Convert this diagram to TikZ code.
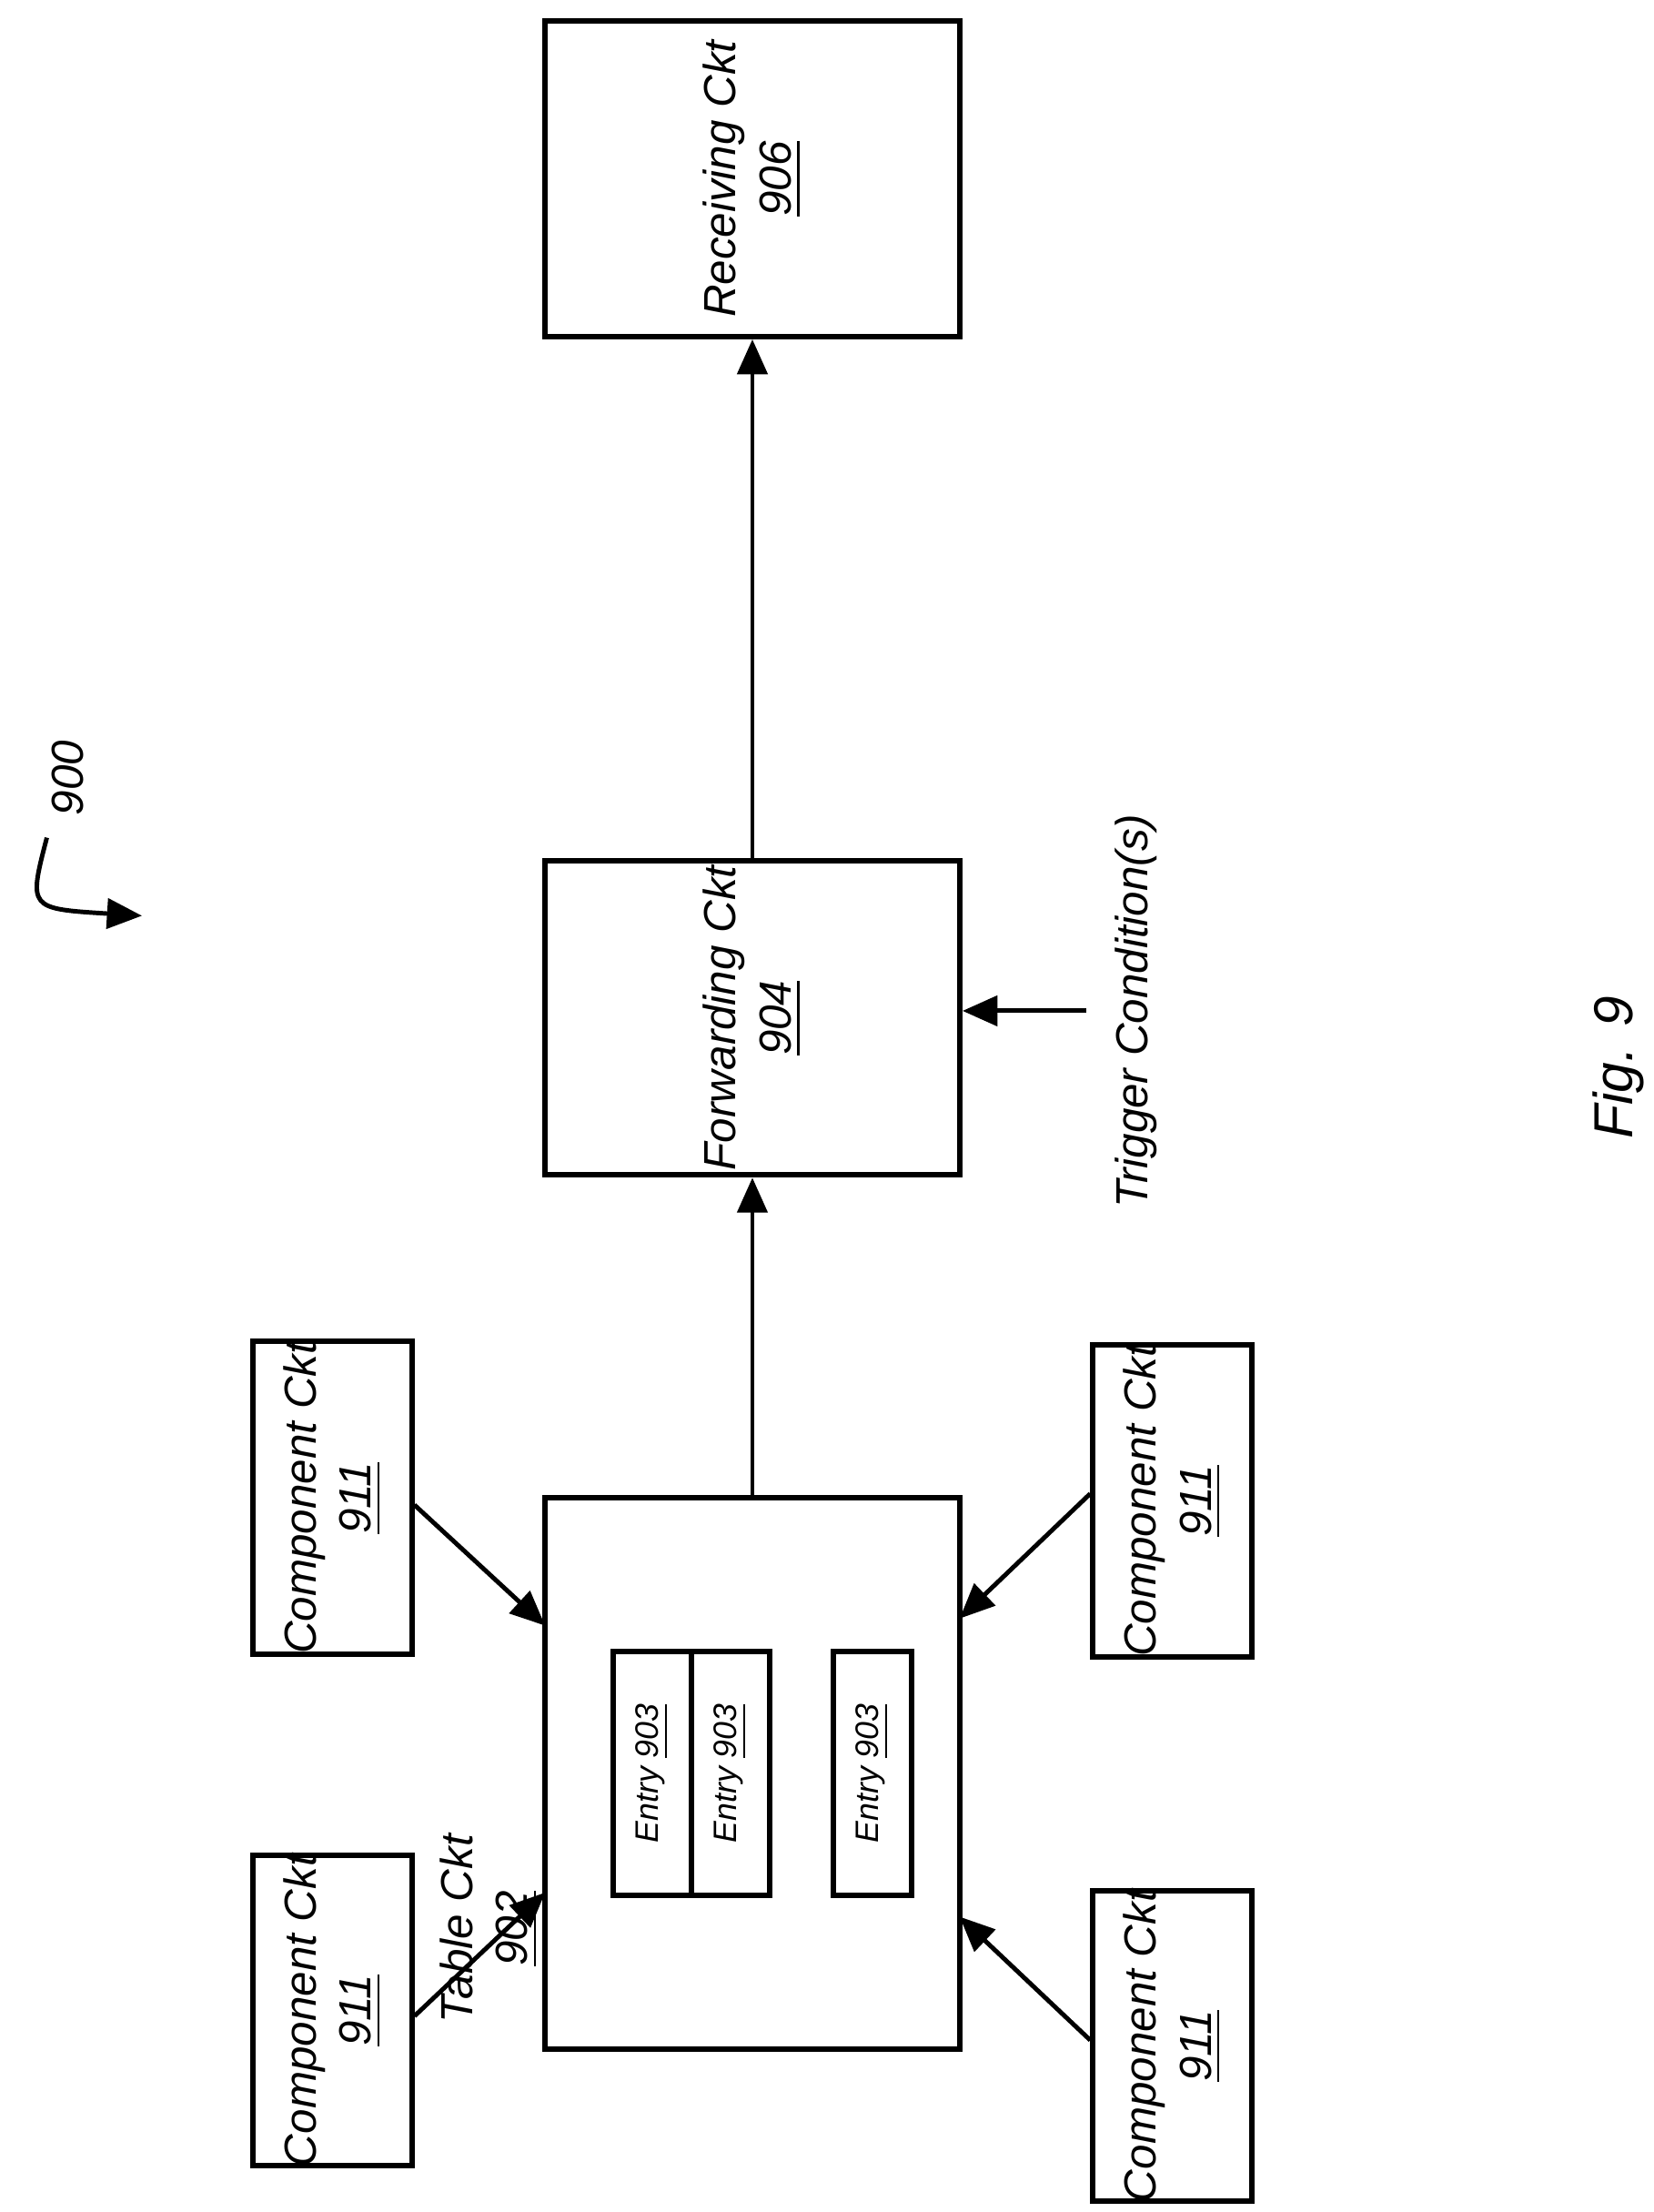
\documentclass[tikz,border=0pt]{standalone}
\usepackage{fontspec}
\setmainfont{Liberation Sans}
\usetikzlibrary{arrows.meta}
\begin{document}
\begin{tikzpicture}[x=0.01cm,y=-0.01cm,line width=0.9pt,
  every text node part/.style={align=center},
  box/.style={draw,line width=1.1pt,inner sep=0pt},
  rot/.style={rotate=90,font=\fontsize{9}{11}\selectfont\itshape},
  small/.style={rotate=90,font=\fontsize{6.5}{8}\selectfont\itshape},
  arr/.style={-{Triangle[length=7pt,width=6pt]}}]
  \useasboundingbox (0,0) rectangle (1165,1558);
  % Main circuits
  \node[box,minimum width=2.92cm,minimum height=2.22cm] (rec) at (530,126) {};
  \node[rot] (recT) at (rec) {Receiving Ckt\\\underline{906}};
  \node[box,minimum width=2.92cm,minimum height=2.21cm] (fwd) at (530,717) {};
  \node[rot] (fwdT) at (fwd) {Forwarding Ckt\\\underline{904}};
  \node[box,minimum width=2.92cm,minimum height=3.88cm] (tab) at (530,1249) {};
  \node[rot,anchor=south west,align=left] (tabT) at (392,1438) {Table Ckt\\\underline{902}};
  % Entries
  \node[box,minimum width=0.55cm,minimum height=1.72cm] (e1) at (459.5,1249) {};
  \node[box,minimum width=0.55cm,minimum height=1.72cm] (e2) at (514.5,1249) {};
  \node[box,minimum width=0.55cm,minimum height=1.72cm] (e3) at (614.5,1249) {};
  \foreach \e in {e1,e2,e3}
    \node[small] (\e T) at (\e) {Entry \underline{903}};
  % Component circuits
  \node[box,minimum width=1.12cm,minimum height=2.2cm] (c1) at (234,1055) {};
  \node[box,minimum width=1.12cm,minimum height=2.18cm] (c2) at (234,1416) {};
  \node[box,minimum width=1.12cm,minimum height=2.2cm] (c3) at (826,1057) {};
  \node[box,minimum width=1.12cm,minimum height=2.18cm] (c4) at (826,1441) {};
  \foreach \c in {c1,c2,c3,c4}
    \node[rot] (\c T) at (\c) {Component Ckt\\\underline{911}};
  % Trigger
  \coordinate (trg) at (765,712);
  \node[rot] (trgT) at (800,712) {Trigger Condition(s)};
  \draw[arr] (trg) -- (fwd.east |- trg);
  % Connections
  \draw[arr] (tab.north) -- (fwd.south);
  \draw[arr] (fwd.north) -- (rec.south);
  \draw[arr] (c1.east |- 0,1060) -- (384,1145);
  \draw[arr] (c2.east |- 0,1420) -- (384,1333);
  \draw[arr] (c3.west |- 0,1052) -- (676,1140);
  \draw[arr] (c4.west |- 0,1437) -- (676,1350);
  % Figure labels
  \node[rot] (ref) at (48,548) {900};
  \coordinate (refA) at (33,590);
  \coordinate (refB) at (100,645);
  \draw[arr] (refA) .. controls (20,640) .. (refB);
  \node[rot,font=\fontsize{11}{13}\selectfont\itshape] (fig) at (1140,752) {Fig. 9};
\end{tikzpicture}
\end{document}
